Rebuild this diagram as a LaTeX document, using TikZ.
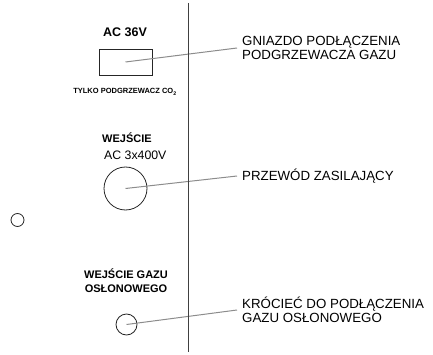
\documentclass[tikz,border=0pt]{standalone}
\usepackage{fontspec}
\setmainfont{Liberation Sans}
\usetikzlibrary{positioning}

\begin{document}
\begin{tikzpicture}[
    x=1pt, y=-1pt,
    panel/.style={draw=black!75, line width=1pt},
    part/.style={draw=black!85, line width=0.8pt, inner sep=0pt},
    leader/.style={draw=black!45, line width=1pt},
    title/.style={font=\bfseries\fontsize{11}{14}\selectfont,
                  align=center, inner sep=0pt},
    callout/.style={font=\fontsize{13.3}{14}\selectfont, align=left,
                    anchor=west, inner xsep=5pt, inner ysep=0pt}
  ]
  \useasboundingbox (0,0) rectangle (433,355);

  % heater socket
  \node[title, font=\bfseries\fontsize{12.5}{14}\selectfont, anchor=base]
    (v36) at (125,37) {AC 36V};
  \node[part, minimum width=53pt, minimum height=26pt] (socket) at (125.5,62) {};
  \node[title, font=\bfseries\fontsize{7.5}{9}\selectfont, anchor=base]
    (onlyco) at (125,94) {TYLKO PODGRZEWACZ CO\textsubscript{2}};
  \node[callout] (socketlbl) at (237,48)
    {GNIAZDO PODŁĄCZENIA\\PODGRZEWACZA GAZU};
  \draw[leader] (socket.center) -- (socketlbl.west);

  % mains input
  \node[font=\bfseries\fontsize{11}{13}\selectfont, anchor=base west, inner sep=0pt]
    (mainsin) at (102,143) {WEJŚCIE};
  \node[font=\fontsize{12.3}{14}\selectfont, anchor=base west, inner sep=0pt]
    (mainsv) at (104,160) {AC 3x400V};
  \node[part, circle, minimum size=43pt] (cable) at (125.5,188.5) {};
  \node[callout] (cablelbl) at (237,176) {PRZEWÓD ZASILAJĄCY};
  \draw[leader] (cable.center) -- (cablelbl.west);

  \node[part, circle, minimum size=13pt] (spare) at (17.5,220) {};

  % shielding gas input
  \node[title, anchor=base] (gasin) at (126,292) {WEJŚCIE GAZU\\OSŁONOWEGO};
  \node[part, circle, minimum size=21pt] (gasport) at (126.5,324.5) {};
  \node[callout] (gaslbl) at (237,310)
    {KRÓCIEĆ DO PODŁĄCZENIA\\GAZU OSŁONOWEGO};
  \draw[leader] (gasport.center) -- (gaslbl.west);

  % panel edge
  \coordinate (edgetop) at (188,3);
  \coordinate (edgebot) at (188,352);
  \draw[panel] (edgetop) -- (edgebot);
\end{tikzpicture}
\end{document}
